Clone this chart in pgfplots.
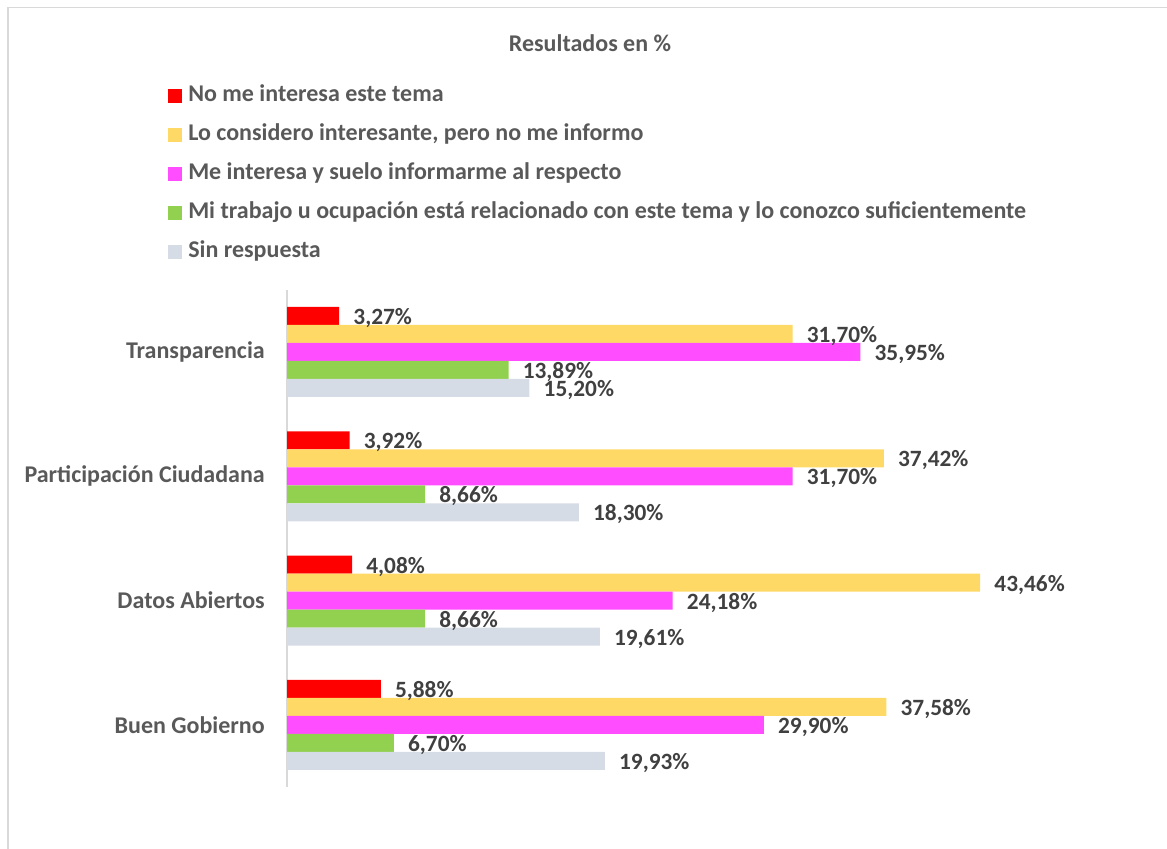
\documentclass[border=0pt]{standalone}
\usepackage{fontspec}
\setmainfont{Carlito}
\usepackage{pgfplots}
\pgfplotsset{compat=1.18}

\definecolor{cRed}{HTML}{FF0000}
\definecolor{cYellow}{HTML}{FFD966}
\definecolor{cMagenta}{HTML}{FF4DFF}
\definecolor{cGreen}{HTML}{92D050}
\definecolor{cGray}{HTML}{D6DCE5}
\definecolor{txt}{HTML}{595959}
\definecolor{lbl}{HTML}{404040}
\definecolor{frame}{HTML}{D9D9D9}

\newcommand{\bigfont}{\bfseries\fontsize{18}{21}\selectfont}
\newcommand{\lblfont}{\bfseries\fontsize{17.5}{21}\selectfont}

\begin{document}
\begin{tikzpicture}
% 1 px = 0.75pt
\begin{scope}[x=0.75pt,y=-0.75pt]
  \useasboundingbox (0,0) rectangle (1167,849);
  \draw[frame, line width=1.2pt] (8,849) -- (8,7.5) -- (1167,7.5);
  \node[font=\bigfont, text=txt, inner sep=0pt] at (590,43) {Resultados en \%};
\end{scope}

\begin{axis}[
    at={(215.25pt,-590.25pt)}, anchor=origin,
    scale only axis,
    width=538.3pt, height=372.9pt,
    xmin=0, xmax=45, ymin=0, ymax=4,
    xbar, bar width=13.5pt,
    axis x line=none,
    axis y line*=left,
    y axis line style={frame, line width=1.1pt},
    xtick=\empty,
    ytick={0.5,1.5,2.5,3.5},
    yticklabels={Buen Gobierno, Datos Abiertos, Participación Ciudadana, Transparencia},
    major tick length=0pt,
    yticklabel style={font=\bigfont, text=txt, inner sep=0pt, anchor=east, xshift=-16.5pt},
    clip=false,
    point meta=x,
    nodes near coords={\pgfmathprintnumber[fixed,fixed zerofill,precision=2,use comma,assume math mode=true]{\pgfplotspointmeta}\%},
    every node near coord/.append style={font=\lblfont, text=lbl, anchor=west, inner sep=0pt, xshift=10.5pt, yshift=-1.5pt},
    legend cell align=left,
    legend style={at={(axis description cs:-0.1658,1.413)}, anchor=north west,
        draw=none, fill=none, inner sep=0pt, row sep=12.75pt,
        nodes={inner sep=0pt, text height=12.5pt, text depth=4pt, font=\bigfont, text=txt}},
    /tikz/every odd column/.append style={column sep=4.5pt},
    legend image code/.code={\fill[#1] (0pt,-5.25pt) rectangle (10.5pt,5.25pt);},
]
\addplot[fill=cRed, draw=none, bar shift=27pt] coordinates {
    (3.27,3.5) (3.92,2.5) (4.08,1.5) (5.88,0.5)};
\addlegendentry{No me interesa este tema}
\addplot[fill=cYellow, draw=none, bar shift=13.5pt] coordinates {
    (31.70,3.5) (37.42,2.5) (43.46,1.5) (37.58,0.5)};
\addlegendentry{Lo considero interesante, pero no me informo}
\addplot[fill=cMagenta, draw=none, bar shift=0pt] coordinates {
    (35.95,3.5) (31.70,2.5) (24.18,1.5) (29.90,0.5)};
\addlegendentry{Me interesa y suelo informarme al respecto}
\addplot[fill=cGreen, draw=none, bar shift=-13.5pt] coordinates {
    (13.89,3.5) (8.66,2.5) (8.66,1.5) (6.70,0.5)};
\addlegendentry{Mi trabajo u ocupación está relacionado con este tema y lo conozco suficientemente}
\addplot[fill=cGray, draw=none, bar shift=-27pt] coordinates {
    (15.20,3.5) (18.30,2.5) (19.61,1.5) (19.93,0.5)};
\addlegendentry{Sin respuesta}
\end{axis}
\end{tikzpicture}
\end{document}
